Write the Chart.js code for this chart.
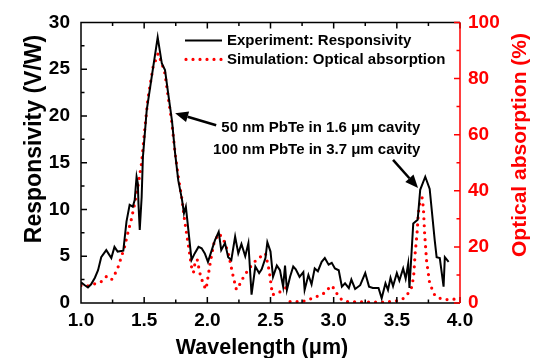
<!DOCTYPE html>
<html>
<head>
<meta charset="utf-8">
<script src="https://cdn.jsdelivr.net/npm/chart.js@4.4.1/dist/chart.umd.min.js"></script>
<style>
  html, body { margin: 0; padding: 0; background: #fff; }
</style>
</head>
<body>
<canvas id="chart" width="534" height="358"></canvas>
<script>
// Experiment: responsivity (V/W) vs wavelength (um)
const expWavelength = [
  1.00, 1.03, 1.055, 1.08, 1.11, 1.135, 1.16, 1.20, 1.24, 1.265, 1.29, 1.335, 1.36, 1.385, 1.41, 1.425,
  1.44, 1.45, 1.455, 1.465, 1.48, 1.49, 1.52, 1.56, 1.607, 1.64, 1.665, 1.69, 1.72, 1.745, 1.77, 1.80,
  1.815, 1.83, 1.85, 1.875, 1.90, 1.93, 1.955, 1.98, 2.005, 2.035, 2.06, 2.09, 2.11, 2.14, 2.165, 2.19,
  2.22, 2.245, 2.27, 2.30, 2.325, 2.35, 2.38, 2.41, 2.43, 2.46, 2.475, 2.50, 2.52, 2.55, 2.575, 2.60,
  2.615, 2.63, 2.655, 2.68, 2.70, 2.73, 2.76, 2.77, 2.80, 2.825, 2.85, 2.875, 2.905, 2.93, 2.96, 2.985,
  3.01, 3.04, 3.065, 3.09, 3.12, 3.14, 3.17, 3.21, 3.25, 3.28, 3.31, 3.355, 3.38, 3.41, 3.43, 3.45,
  3.47, 3.50, 3.52, 3.55, 3.57, 3.59, 3.60, 3.63, 3.665, 3.685, 3.725, 3.76, 3.80, 3.815, 3.84, 3.87,
  3.88, 3.91
];
const expResponsivity = [
  2.2, 1.9, 1.67, 2.0, 2.7, 3.5, 4.9, 5.65, 4.8, 6.0, 5.5, 5.6, 8.7, 10.5, 10.3, 11.0,
  13.5, 12.8, 10.6, 7.8, 11.3, 15.6, 20.6, 24.2, 28.4, 25.6, 24.9, 22.4, 19.5, 16.0, 13.1, 11.0,
  9.6, 10.3, 7.8, 4.6, 5.3, 6.0, 5.85, 5.3, 4.4, 5.65, 6.7, 7.6, 5.65, 6.4, 4.9, 4.6,
  7.1, 5.3, 6.3, 5.0, 6.4, 0.9, 3.9, 3.2, 3.6, 4.8, 6.5, 5.5, 2.8, 4.0, 3.5, 1.75,
  4.0, 1.4, 2.8, 3.9, 3.6, 2.8, 3.3, 1.4, 3.0, 2.0, 3.7, 3.4, 4.4, 4.8, 4.1, 4.3,
  3.7, 3.5, 1.75, 2.1, 1.6, 2.5, 1.5, 1.9, 3.2, 1.75, 1.6, 1.6, 0.5, 2.1, 1.4, 2.7,
  1.8, 3.2, 2.4, 3.7, 2.6, 4.2, 1.6, 8.5, 8.9, 12.1, 13.5, 12.2, 6.7, 4.9, 4.8, 1.75,
  4.9, 4.4
];

// Simulation: optical absorption (%) vs wavelength (um)
const simWavelength = [
  1.00, 1.04, 1.08, 1.12, 1.16, 1.20, 1.24, 1.265, 1.29, 1.32, 1.345, 1.37, 1.40, 1.425, 1.45, 1.48,
  1.505, 1.53, 1.57, 1.61, 1.64, 1.665, 1.69, 1.72, 1.745, 1.77, 1.80, 1.82, 1.85, 1.875, 1.89, 1.905,
  1.92, 1.94, 1.97, 1.99, 2.02, 2.05, 2.09, 2.125, 2.165, 2.205, 2.23, 2.245, 2.27, 2.325, 2.39, 2.46,
  2.49, 2.515, 2.55, 2.60, 2.63, 2.64, 2.655, 2.70, 2.76, 2.80, 2.84, 2.89, 2.93, 2.96, 2.985, 3.01,
  3.04, 3.065, 3.10, 3.20, 3.30, 3.40, 3.50, 3.55, 3.58, 3.62, 3.635, 3.645, 3.66, 3.67, 3.685, 3.70,
  3.71, 3.72, 3.735, 3.76, 3.80, 3.84, 3.90, 4.00
];
const simAbsorption = [
  6.2, 6.0, 6.4, 7.0, 7.6, 9.4, 8.2, 10.0, 12.3, 16.5, 20.0, 24.8, 30.1, 35.5, 41.4, 50.0,
  62.0, 73.0, 84.0, 88.9, 85.4, 81.7, 73.4, 64.0, 53.3, 45.0, 36.7, 29.5, 20.5, 12.9, 10.8, 15.0,
  15.5, 10.8, 6.4, 4.9, 13.5, 21.0, 24.8, 23.0, 18.0, 9.4, 4.8, 5.5, 8.0, 12.0, 15.5, 17.7,
  11.5, 3.0, 3.3, 4.6, 5.8, null, 0.5, 0.5, 0.6, 1.2, 1.8, 2.8, 3.6, 5.2, 6.2, 4.6,
  2.2, 1.2, 0.5, 0.4, 0.3, 0.3, 0.8, 1.6, 2.8, 5.8, 10.6, 17.7, 24.8, 31.9, 36.5, 37.5,
  34.0, 24.8, 15.3, 7.0, 2.8, 1.7, 1.2, 1.5
];

// tick labels
const xLabels = ['1.0', '1.5', '2.0', '2.5', '3.0', '3.5', '4.0'];
const yLabels = ['0', '5', '10', '15', '20', '25', '30'];
const y2Labels = ['0', '20', '40', '60', '80', '100'];

const RED = '#ff0000';
const FONT = "'Liberation Sans', Arial, sans-serif";

function pickLabel(list, v) {
  return list.find(l => Math.abs(parseFloat(l) - v) < 1e-6) || '';
}

function toPoints(xs, ys) {
  return xs.map((x, i) => ({ x: x, y: ys[i] }));
}

// arrow from tail to tip
function drawArrow(ctx, x1, y1, x2, y2) {
  const ang = Math.atan2(y2 - y1, x2 - x1);
  const head = 13, half = 5.5;
  const bx = x2 - head * Math.cos(ang), by = y2 - head * Math.sin(ang);
  ctx.beginPath();
  ctx.moveTo(x1, y1);
  ctx.lineTo(bx, by);
  ctx.stroke();
  ctx.beginPath();
  ctx.moveTo(x2, y2);
  ctx.lineTo(bx + half * Math.sin(ang), by - half * Math.cos(ang));
  ctx.lineTo(bx - half * Math.sin(ang), by + half * Math.cos(ang));
  ctx.closePath();
  ctx.fill();
}

// rotated axis title, reading bottom to top
function drawVTitle(ctx, text, x, y, color, size) {
  ctx.save();
  ctx.translate(x, y);
  ctx.rotate(-Math.PI / 2);
  ctx.fillStyle = color;
  ctx.font = 'bold ' + size + 'px ' + FONT;
  ctx.textAlign = 'center';
  ctx.textBaseline = 'middle';
  ctx.fillText(text, 0, 0);
  ctx.restore();
}

// frame, inward ticks, titles, legend and notes
const decorations = {
  id: 'decorations',
  afterDatasetsDraw(chart) {
    const { ctx, chartArea: a, scales } = chart;
    ctx.save();
    ctx.lineWidth = 1.5;
    ctx.strokeStyle = '#000';
    ctx.beginPath();
    scales.x.ticks.forEach(t => {
      const px = scales.x.getPixelForValue(t.value);
      const len = t.label ? 6 : 3.5;
      ctx.moveTo(px, a.bottom); ctx.lineTo(px, a.bottom - len);
      ctx.moveTo(px, a.top); ctx.lineTo(px, a.top + len);
    });
    scales.y.ticks.forEach(t => {
      const py = scales.y.getPixelForValue(t.value);
      const len = t.label ? 6 : 3.5;
      ctx.moveTo(a.left, py); ctx.lineTo(a.left + len, py);
    });
    ctx.moveTo(a.right, a.top);
    ctx.lineTo(a.left, a.top);
    ctx.lineTo(a.left, a.bottom);
    ctx.lineTo(a.right, a.bottom);
    ctx.stroke();

    ctx.strokeStyle = RED;
    ctx.beginPath();
    scales.y2.ticks.forEach(t => {
      const py = scales.y2.getPixelForValue(t.value);
      const len = t.label ? 6 : 3.5;
      ctx.moveTo(a.right, py); ctx.lineTo(a.right - len, py);
    });
    ctx.moveTo(a.right, a.top);
    ctx.lineTo(a.right, a.bottom);
    ctx.stroke();
    ctx.restore();
  },
  afterDraw(chart) {
    const { ctx, chartArea: a, scales } = chart;
    ctx.save();

    // axis titles
    drawVTitle(ctx, 'Responsivity (V/W)', 34.5, 139, '#000', 23);
    drawVTitle(ctx, 'Optical absorption (%)', 520, 145, RED, 21);
    ctx.fillStyle = '#000';
    ctx.font = 'bold 21.5px ' + FONT;
    ctx.textAlign = 'center';
    ctx.textBaseline = 'middle';
    ctx.fillText('Wavelength (\u03bcm)', 262, 348.5);

    // legend
    const lx = a.left + 104, ly = a.top + 18;
    ctx.lineWidth = 2;
    ctx.strokeStyle = '#000';
    ctx.beginPath();
    ctx.moveTo(lx, ly); ctx.lineTo(lx + 37, ly);
    ctx.stroke();
    ctx.strokeStyle = RED;
    ctx.lineWidth = 3.2;
    ctx.lineCap = 'round';
    ctx.setLineDash([0, 7]);
    ctx.beginPath();
    ctx.moveTo(lx + 1, ly + 19); ctx.lineTo(lx + 37, ly + 19);
    ctx.stroke();
    ctx.setLineDash([]);
    ctx.lineCap = 'butt';

    ctx.font = 'bold 15px ' + FONT;
    ctx.textAlign = 'left';
    ctx.fillText('Experiment: Responsivity', lx + 42, ly);
    ctx.fillText('Simulation: Optical absorption', lx + 42, ly + 19);

    // notes
    ctx.textAlign = 'center';
    ctx.fillText('50 nm PbTe in 1.6 \u03bcm cavity', scales.x.getPixelForValue(2.898), scales.y.getPixelForValue(18.68));
    ctx.fillText('100 nm PbTe in 3.7 \u03bcm cavity', scales.x.getPixelForValue(2.866), scales.y.getPixelForValue(16.33));

    ctx.strokeStyle = '#000';
    ctx.lineWidth = 2.5;
    const X = v => scales.x.getPixelForValue(v);
    const Y = v => scales.y.getPixelForValue(v);
    drawArrow(ctx, X(2.07), Y(19.0), X(1.745), Y(20.3));
    drawArrow(ctx, X(3.47), Y(15.3), X(3.668), Y(12.3));
    ctx.restore();
  }
};

const tickFont = { family: FONT, size: 19, weight: 'bold' };

new Chart(document.getElementById('chart').getContext('2d'), {
  type: 'line',
  data: {
    datasets: [
      {
        label: 'Experiment: Responsivity',
        data: toPoints(expWavelength, expResponsivity),
        borderColor: '#000',
        borderWidth: 2,
        pointRadius: 0,
        tension: 0,
        yAxisID: 'y'
      },
      {
        label: 'Simulation: Optical absorption',
        data: toPoints(simWavelength, simAbsorption),
        borderColor: RED,
        borderWidth: 3.2,
        borderDash: [0, 7],
        borderCapStyle: 'round',
        pointRadius: 0,
        tension: 0,
        spanGaps: false,
        yAxisID: 'y2'
      }
    ]
  },
  options: {
    responsive: false,
    animation: false,
    layout: { padding: { top: 22 } },
    plugins: { legend: { display: false }, tooltip: { enabled: false } },
    scales: {
      x: {
        type: 'linear',
        min: 1, max: 4,
        afterFit: s => { s.height = 55; },
        grid: { display: false, drawTicks: false },
        border: { display: false },
        ticks: {
          stepSize: 0.25, autoSkip: false, maxRotation: 0, padding: 6,
          color: '#000', font: tickFont,
          callback: v => pickLabel(xLabels, v)
        }
      },
      y: {
        position: 'left',
        min: 0, max: 30,
        afterFit: s => { s.width = 81; },
        grid: { display: false, drawTicks: false },
        border: { display: false },
        ticks: {
          stepSize: 2.5, autoSkip: false, padding: 11,
          color: '#000', font: tickFont,
          callback: v => pickLabel(yLabels, v)
        }
      },
      y2: {
        position: 'right',
        min: 0, max: 100,
        afterFit: s => { s.width = 74; },
        grid: { display: false, drawTicks: false },
        border: { display: false },
        ticks: {
          stepSize: 10, autoSkip: false, padding: 8,
          color: RED, font: tickFont,
          callback: v => pickLabel(y2Labels, v)
        }
      }
    }
  },
  plugins: [decorations]
});
</script>
</body>
</html>
